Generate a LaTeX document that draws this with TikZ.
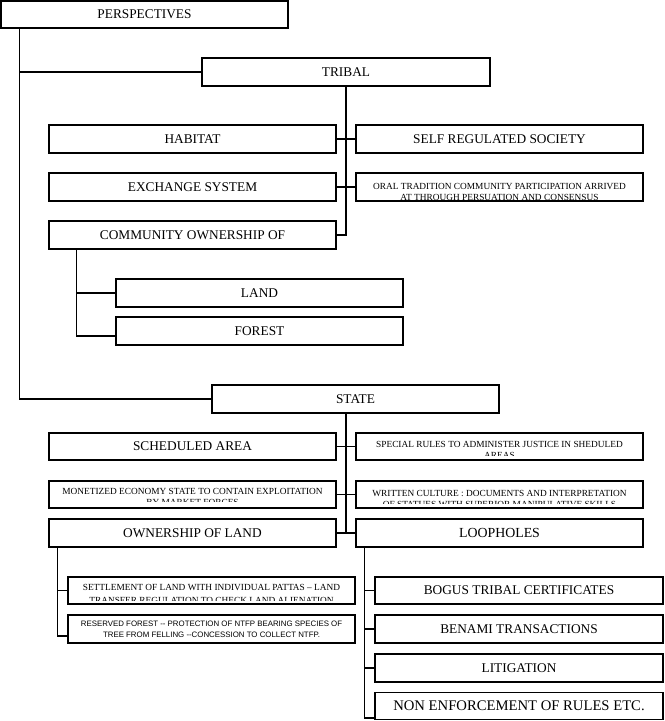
\documentclass[tikz,border=0pt]{standalone}
\usepackage{fontspec}
\setmainfont{Liberation Serif}
\newfontfamily\smallsans{Liberation Sans}
\usetikzlibrary{calc}
\begin{document}
\begin{tikzpicture}[x=0.75pt,y=-0.75pt,
  bx/.style={draw, line width=0.8pt, inner sep=0pt, rectangle, font=\fontsize{10}{12}\selectfont},
  sz/.style 2 args={minimum width=#1*0.75pt, minimum height=#2*0.75pt},
  ln/.style={line width=0.8pt},
  cliptext/.style n args={3}{path picture={
    \clip ([yshift=#1]path picture bounding box.south west) rectangle (path picture bounding box.north east);
    \node[align=center, inner sep=0pt, font=\fontsize{7}{8.25}\selectfont] at ([yshift=#2]path picture bounding box.center) {#3};}}
]
\useasboundingbox (0,0) rectangle (664,721);

% top
\node[bx, sz={287}{27}] (persp) at (144.5,14.5) {PERSPECTIVES};
\node[bx, sz={288}{28}] (tribal) at (346,72) {TRIBAL};

% tribal branch
\node[bx, sz={287}{28}] (hab) at (192.5,139) {HABITAT};
\node[bx, sz={287}{28}] (self) at (499.5,139) {SELF REGULATED SOCIETY};
\node[bx, sz={287}{28}] (ex) at (192.5,187) {EXCHANGE SYSTEM};
\node[bx, sz={287}{28}, cliptext={1.1pt}{-3.4pt}{ORAL TRADITION COMMUNITY PARTICIPATION ARRIVED\\AT THROUGH PERSUATION AND CONSENSUS}] (oral) at (499.5,187) {};
\node[bx, sz={287}{28}] (comm) at (192.5,235) {COMMUNITY OWNERSHIP OF};
\node[bx, sz={287}{28}] (land) at (259.5,293) {LAND};
\node[bx, sz={287}{28}] (forest) at (259.5,331) {FOREST};

% state branch
\node[bx, sz={287}{28}] (state) at (355.5,399) {STATE};
\node[bx, sz={287}{27}] (sched) at (192.5,446.5) {SCHEDULED AREA};
\node[bx, sz={287}{27}, cliptext={3.75pt}{-2.25pt}{SPECIAL RULES TO ADMINISTER JUSTICE IN SHEDULED\\AREAS}] (spec) at (499.5,446.5) {};
\node[bx, sz={287}{27}, cliptext={4.6pt}{-2pt}{MONETIZED ECONOMY STATE TO CONTAIN EXPLOITATION\\BY MARKET FORCES}] (mon) at (192.5,494.5) {};
\node[bx, sz={287}{27}, cliptext={3.75pt}{-3pt}{WRITTEN CULTURE : DOCUMENTS AND INTERPRETATION\\OF STATUES WITH SUPERIOR MANIPULATIVE SKILLS}] (writ) at (499.5,494.5) {};
\node[bx, sz={287}{28}] (own) at (192.5,533) {OWNERSHIP OF LAND};
\node[bx, sz={287}{28}, font=\fontsize{10.4}{12}\selectfont] (loop) at (499.5,533) {LOOPHOLES};

\node[bx, sz={287}{27},
  path picture={
    \clip ([yshift=3pt]path picture bounding box.south west) rectangle (path picture bounding box.north east);
    \node[align=center, inner sep=0pt, font=\fontsize{7}{9.75}\selectfont] at ([yshift=-2.6pt]path picture bounding box.center) {SETTLEMENT OF LAND WITH INDIVIDUAL PATTAS -- LAND\\TRANSFER REGULATION TO CHECK LAND ALIENATION};}] (settle) at (211.5,590.5) {};
\node[bx, sz={287}{28}, align=center, font=\smallsans\fontsize{5.9}{8.25}\selectfont] (res) at (211.5,629) {RESERVED FOREST -- PROTECTION OF NTFP BEARING SPECIES OF\\TREE FROM FELLING --CONCESSION TO COLLECT NTFP.};

\node[bx, sz={288}{27}] (bogus) at (519,590.5) {BOGUS TRIBAL CERTIFICATES};
\node[bx, sz={288}{28}] (benami) at (519,629) {BENAMI TRANSACTIONS};
\node[bx, sz={288}{28}] (litig) at (519,668) {LITIGATION};
\node[bx, sz={288}{27}, font=\fontsize{11}{13}\selectfont] (non) at (519,706) {NON ENFORCEMENT OF RULES ETC.};

% connectors
\draw[ln] ($(persp.south west)+(19,0)$) |- (tribal.west);
\draw[ln] ($(persp.south west)+(19,0)$) |- (state.west);
\draw[ln] (tribal.south) |- (comm.east);
\draw[ln] (hab.east) -- (self.west);
\draw[ln] (ex.east) -- (oral.west);
\draw[ln] ($(comm.south west)+(28,0)$) |- (land.west);
\draw[ln] ($(comm.south west)+(28,0)$) |- ($(forest.west)+(0,5)$);

\draw[ln] (state.south -| tribal.south) |- (own.east);
\draw[ln] (own.east) -- (loop.west);
\draw[ln] (sched.east) -- (spec.west);
\draw[ln] (mon.east) -- (writ.west);
\draw[ln] ($(own.south west)+(9,0)$) |- (settle.west);
\draw[ln] ($(own.south west)+(9,0)$) |- ($(res.west)+(0,7)$);
\draw[ln] ($(loop.south west)+(9,0)$) |- (bogus.west);
\draw[ln] ($(loop.south west)+(9,0)$) |- (benami.west);
\draw[ln] ($(loop.south west)+(9,0)$) |- (litig.west);
\draw[ln] ($(loop.south west)+(9,0)$) |- ($(non.west)+(0,12)$);
\end{tikzpicture}
\end{document}
